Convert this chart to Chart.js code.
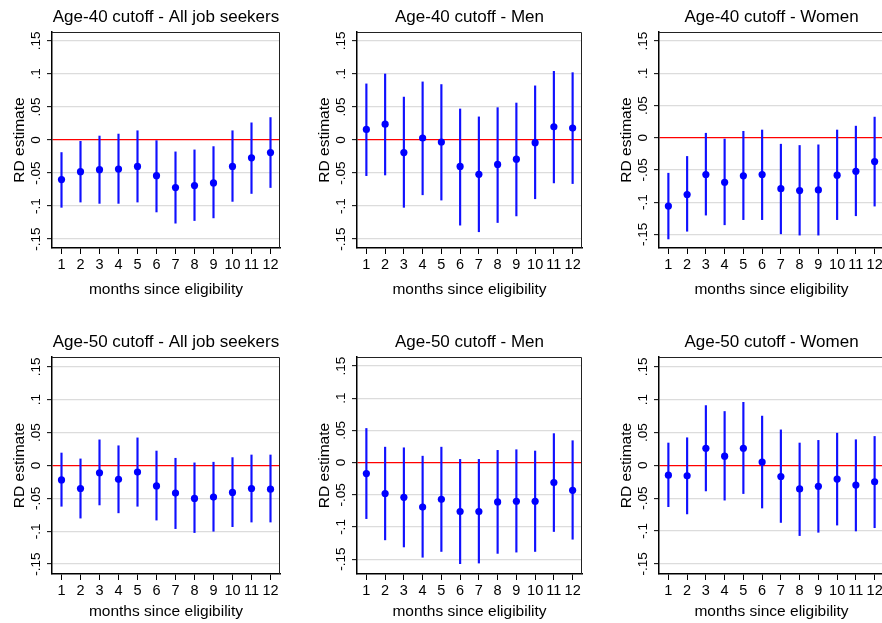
<!DOCTYPE html>
<html><head><meta charset="utf-8">
<script src="https://cdn.jsdelivr.net/npm/chart.js@4.4.0/dist/chart.umd.min.js"></script>
<style>
html,body{margin:0;padding:0;background:#fff;}
body{position:relative;width:882px;height:623px;overflow:hidden;}
canvas{position:absolute;}
</style></head><body>
<script>
// ---------- data ----------
const months = [1,2,3,4,5,6,7,8,9,10,11,12];
const yTickValues = [-0.15,-0.1,-0.05,0,0.05,0.1,0.15];
const yTickLabels = ['-.15','-.1','-.05','0','.05','.1','.15'];
const xTitle = 'months since eligibility';
const yTitle = 'RD estimate';
const panelTitles = ['Age-40 cutoff - All job seekers','Age-40 cutoff - Men','Age-40 cutoff - Women',
                     'Age-50 cutoff - All job seekers','Age-50 cutoff - Men','Age-50 cutoff - Women'];

const est40All = [-0.060,-0.048,-0.045,-0.044,-0.040,-0.054,-0.072,-0.069,-0.065,-0.040,-0.027,-0.019];
const lo40All  = [-0.102,-0.094,-0.096,-0.096,-0.094,-0.109,-0.126,-0.122,-0.118,-0.093,-0.081,-0.072];
const hi40All  = [-0.019,-0.002,0.006,0.009,0.014,-0.001,-0.018,-0.015,-0.010,0.014,0.026,0.034];

const est40Men = [0.016,0.024,-0.019,0.003,-0.003,-0.040,-0.052,-0.037,-0.029,-0.004,0.020,0.018];
const lo40Men  = [-0.054,-0.053,-0.102,-0.083,-0.091,-0.129,-0.139,-0.125,-0.115,-0.089,-0.065,-0.066];
const hi40Men  = [0.085,0.100,0.065,0.088,0.084,0.047,0.035,0.049,0.056,0.082,0.104,0.102];

const est40Women = [-0.106,-0.088,-0.057,-0.069,-0.059,-0.057,-0.079,-0.082,-0.081,-0.058,-0.052,-0.037];
const lo40Women  = [-0.157,-0.145,-0.120,-0.135,-0.127,-0.127,-0.149,-0.151,-0.151,-0.127,-0.121,-0.106];
const hi40Women  = [-0.055,-0.029,0.007,-0.002,0.010,0.012,-0.010,-0.012,-0.011,0.012,0.018,0.032];

const est50All = [-0.022,-0.035,-0.011,-0.021,-0.010,-0.031,-0.042,-0.050,-0.048,-0.041,-0.035,-0.036];
const lo50All  = [-0.062,-0.080,-0.060,-0.072,-0.062,-0.083,-0.096,-0.102,-0.100,-0.093,-0.086,-0.086];
const hi50All  = [0.019,0.010,0.039,0.030,0.042,0.022,0.011,0.004,0.005,0.012,0.016,0.016];

const est50Men = [-0.017,-0.048,-0.054,-0.069,-0.057,-0.076,-0.076,-0.061,-0.060,-0.060,-0.031,-0.043];
const lo50Men  = [-0.087,-0.120,-0.131,-0.147,-0.138,-0.157,-0.156,-0.141,-0.139,-0.138,-0.107,-0.119];
const hi50Men  = [0.053,0.024,0.023,0.010,0.024,0.005,0.005,0.019,0.020,0.018,0.045,0.034];

const est50Women = [-0.015,-0.016,0.026,0.014,0.026,0.005,-0.017,-0.036,-0.032,-0.021,-0.030,-0.025];
const lo50Women  = [-0.063,-0.074,-0.039,-0.053,-0.043,-0.065,-0.087,-0.107,-0.102,-0.091,-0.100,-0.095];
const hi50Women  = [0.034,0.042,0.091,0.082,0.096,0.075,0.054,0.034,0.038,0.049,0.039,0.044];

// ---------- layout ----------
const FF = '"Liberation Sans", Arial, Helvetica, sans-serif';
const AXW = 52;      // y-axis area width
const RP = 6;        // right padding
const rows = [
  {top:0,   H:310, plotBottom:248, xTitlePad:11.2},
  {top:325, H:298, plotBottom:249, xTitlePad:1.5}
];
const panels = [
  {t:0, est:est40All,   lo:lo40All,   hi:hi40All,   row:0, plotLeft:52,  plotW:228, ymin:-0.1636, ymax:0.1636},
  {t:1, est:est40Men,   lo:lo40Men,   hi:hi40Men,   row:0, plotLeft:357, plotW:225, ymin:-0.1636, ymax:0.1636},
  {t:2, est:est40Women, lo:lo40Women, hi:hi40Women, row:0, plotLeft:659, plotW:225, ymin:-0.171,  ymax:0.164},
  {t:3, est:est50All,   lo:lo50All,   hi:hi50All,   row:1, plotLeft:52,  plotW:228, ymin:-0.165,  ymax:0.165},
  {t:4, est:est50Men,   lo:lo50Men,   hi:hi50Men,   row:1, plotLeft:357, plotW:225, ymin:-0.173,  ymax:0.164},
  {t:5, est:est50Women, lo:lo50Women, hi:hi50Women, row:1, plotLeft:659, plotW:225, ymin:-0.1655, ymax:0.165}
];

const framePlugin = {
  id:'frame',
  afterDraw(chart){
    const {ctx, chartArea:a} = chart;
    ctx.save();
    ctx.strokeStyle = '#222';
    ctx.lineWidth = 1;
    ctx.beginPath();
    ctx.moveTo(a.left, a.top + 0.5);
    ctx.lineTo(a.right - 0.5, a.top + 0.5);
    ctx.lineTo(a.right - 0.5, a.bottom);
    ctx.stroke();
    ctx.restore();
  }
};
const yLabelPlugin = {
  id:'ylabels',
  afterDraw(chart){
    const s = chart.scales.y, ctx = chart.ctx;
    ctx.save();
    ctx.fillStyle = '#000';
    ctx.font = '13.5px ' + FF;
    ctx.textAlign = 'center';
    ctx.textBaseline = 'middle';
    const x = chart.chartArea.left - 16;
    yTickValues.forEach((v,i)=>{
      const y = s.getPixelForValue(v);
      ctx.save();
      ctx.translate(x, y);
      ctx.rotate(-Math.PI/2);
      ctx.fillText(yTickLabels[i], 0, 0);
      ctx.restore();
    });
    ctx.restore();
  }
};

function makePanel(p){
  const r = rows[p.row];
  const W = AXW + p.plotW + RP, H = r.H;
  const c = document.createElement('canvas');
  c.width = W; c.height = H;
  c.style.width = W + 'px'; c.style.height = H + 'px';
  c.style.left = (p.plotLeft - AXW) + 'px';
  c.style.top = r.top + 'px';
  document.body.appendChild(c);
  new Chart(c, {
    type:'scatter',
    data:{ datasets:[
      { type:'bar', data: months.map((m,i)=>({x:m, y:[p.lo[i], p.hi[i]]})),
        backgroundColor:'#1010ff', borderWidth:0, barThickness:1.5, grouped:false, order:2 },
      { type:'scatter', data: months.map((m,i)=>({x:m, y:p.est[i]})),
        pointRadius:3.6, pointBackgroundColor:'#0000ff', pointBorderWidth:0, showLine:false, order:1 }
    ]},
    options:{
      responsive:false, animation:false, devicePixelRatio:1,
      layout:{padding:{left:0, right:RP, top:0, bottom:0}},
      plugins:{
        legend:{display:false}, tooltip:{enabled:false},
        title:{display:true, text:panelTitles[p.t], fullSize:false, color:'#000',
               font:{family:FF, size:17, weight:'normal', lineHeight:1.2}, padding:{top:7, bottom:4.6}}
      },
      scales:{
        x:{
          type:'linear', position:'bottom', min:0.5, max:12.5, offset:false,
          afterBuildTicks: s => { s.ticks = months.map(v=>({value:v})); },
          afterFit: s => { s.height = H - r.plotBottom; },
          grid:{drawOnChartArea:false, drawTicks:true, tickLength:6, tickColor:'#000', tickWidth:1, offset:false},
          border:{display:true, color:'#000', width:1.5},
          ticks:{color:'#000', font:{family:FF, size:14.5}, padding:2, minRotation:0, maxRotation:0, autoSkip:false},
          title:{display:true, text:xTitle, color:'#000', font:{family:FF, size:15.5, lineHeight:1.2}, padding:{top:0, bottom:r.xTitlePad}}
        },
        y:{
          type:'linear', position:'left', min:p.ymin, max:p.ymax,
          afterBuildTicks: s => { s.ticks = yTickValues.map(v=>({value:v})); },
          afterFit: s => { s.width = AXW; },
          grid:{
            color: ctx => (ctx.tick && Math.abs(ctx.tick.value) < 1e-9) ? '#ff0000' : '#dcdcdc',
            lineWidth: 1.3,
            drawTicks:true, tickLength:5, tickColor:'#000', tickWidth:1
          },
          border:{display:true, color:'#000', width:1.5},
          ticks:{display:false},
          title:{display:true, text:yTitle, color:'#000', font:{family:FF, size:15.5, lineHeight:1.2}, padding:{top:10.7, bottom:0}}
        }
      }
    },
    plugins:[framePlugin, yLabelPlugin]
  });
}
panels.forEach(makePanel);
</script>
</body></html>
